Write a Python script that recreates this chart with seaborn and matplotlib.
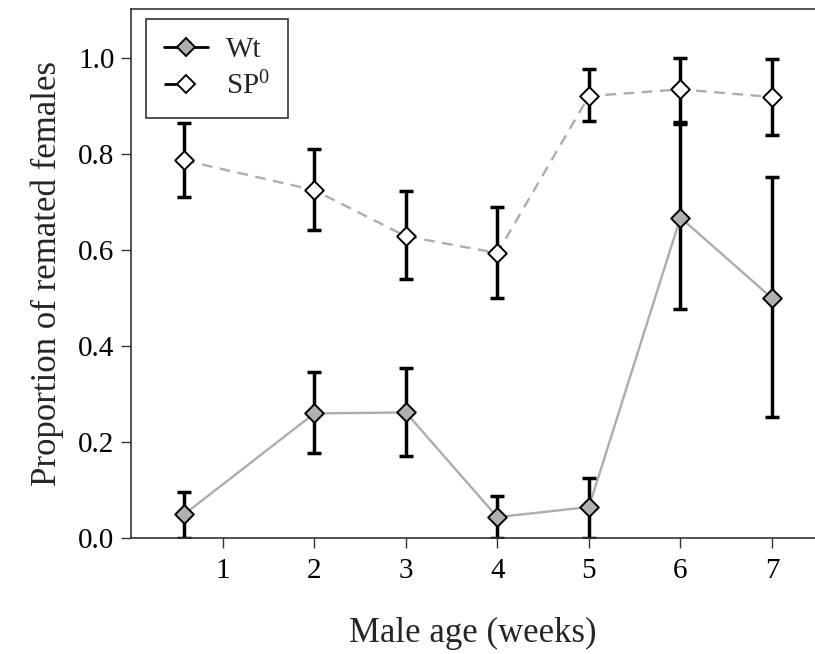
import matplotlib
matplotlib.use("Agg")
import matplotlib.pyplot as plt
from matplotlib.lines import Line2D
import seaborn as sns
import pandas as pd

# data
age = [0.58, 2, 3, 4, 5, 6, 7]
wt_mean = [0.05, 0.26, 0.262, 0.044, 0.065, 0.668, 0.50]
wt_low = [0.0, 0.177, 0.171, 0.0, 0.0, 0.477, 0.252]
wt_high = [0.096, 0.346, 0.354, 0.088, 0.125, 0.862, 0.752]
sp_mean = [0.787, 0.725, 0.629, 0.594, 0.921, 0.935, 0.919]
sp_low = [0.71, 0.642, 0.54, 0.50, 0.869, 0.868, 0.84]
sp_high = [0.865, 0.81, 0.723, 0.69, 0.977, 1.0, 0.998]
xticks = [1, 2, 3, 4, 5, 6, 7]
yticks = [0.0, 0.2, 0.4, 0.6, 0.8, 1.0]

sns.set_style("ticks")
plt.rcParams['font.family'] = ['Liberation Serif', 'DejaVu Serif']
plt.rcParams['mathtext.default'] = 'regular'

df_wt = pd.DataFrame({'age': age, 'p': wt_mean})
df_sp = pd.DataFrame({'age': age, 'p': sp_mean})

fig = plt.figure(figsize=(8.15, 6.54), dpi=100)
ax = fig.add_axes([0.161, 0.177, 0.839, 0.809])

# connecting lines
sns.lineplot(data=df_wt, x='age', y='p', color='#adadad', lw=1.7, ax=ax, zorder=1)
sns.lineplot(data=df_sp, x='age', y='p', color='#adadad', lw=1.7, ls=(0, (4.5, 3.2)), ax=ax, zorder=1)

# error bars
for m, lo, hi in [(wt_mean, wt_low, wt_high), (sp_mean, sp_low, sp_high)]:
    yerr = [[a - b for a, b in zip(m, lo)], [b - a for a, b in zip(m, hi)]]
    ax.errorbar(age, m, yerr=yerr, fmt='none', ecolor='black', elinewidth=2.5,
                capsize=5, capthick=2.5, zorder=2)

# markers
sns.scatterplot(data=df_wt, x='age', y='p', marker='D', s=90, color='#b0b0b0',
                edgecolor='black', linewidth=1.4, ax=ax, zorder=3)
sns.scatterplot(data=df_sp, x='age', y='p', marker='D', s=90, color='white',
                edgecolor='black', linewidth=1.4, ax=ax, zorder=3)

ax.set_xlim(0, 7.47)
ax.set_ylim(0, 1.102)
ax.set_xticks(xticks)
ax.set_yticks(yticks)
ax.set_yticklabels([f"{v:.1f}" for v in yticks])
ax.tick_params(direction='out', length=7, width=1, colors='#333333', labelcolor='black',
               labelsize=21)
ax.tick_params(axis='x', pad=7)
ax.tick_params(axis='y', pad=5)
for s in ['left', 'bottom', 'top']:
    ax.spines[s].set_color('#333333')
    ax.spines[s].set_linewidth(1.2)
ax.spines['right'].set_visible(False)

ax.set_xlabel('Male age (weeks)', fontsize=25, labelpad=24)
ax.set_ylabel('Proportion of remated females', fontsize=25, labelpad=10)

handles = [
    Line2D([], [], color='black', lw=2, marker='D', markersize=9,
           markerfacecolor='#b0b0b0', markeredgecolor='black', markeredgewidth=1.4),
    Line2D([], [], color='black', lw=2, ls=(0, (5, 12)), marker='D', markersize=9,
           markerfacecolor='white', markeredgecolor='black', markeredgewidth=1.4),
]
leg = ax.legend(handles, ['Wt', 'SP$^0$'], loc='upper left', bbox_to_anchor=(0.022, 0.981),
                fontsize=21, fancybox=False, edgecolor='#333333', framealpha=1,
                borderaxespad=0, handlelength=1.5, handletextpad=0.65, borderpad=0.6,
                labelspacing=0.3)
leg.get_frame().set_linewidth(1.2)

fig.savefig('out.png', dpi=100)
